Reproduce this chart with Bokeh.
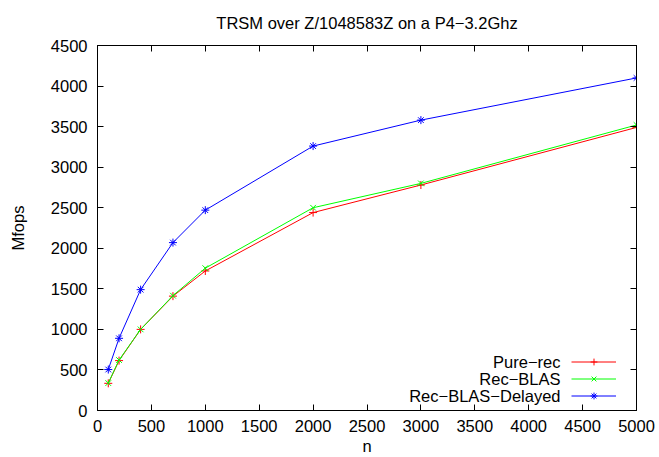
from bokeh.plotting import figure
from bokeh.models import (LinearAxis, SingleIntervalTicker, Range1d, Legend, LegendItem,
                          Label, ColumnDataSource, CustomLabelingPolicy)
from bokeh.core.properties import value
from bokeh.embed import file_html
from bokeh.resources import INLINE

# ---- data ----
n = [100, 200, 400, 700, 1000, 2000, 3000, 5000]
pure_rec = [335, 615, 1000, 1410, 1720, 2440, 2780, 3490]
rec_blas = [338, 622, 1000, 1416, 1755, 2500, 2800, 3520]
rec_blas_delayed = [505, 890, 1490, 2070, 2470, 3260, 3580, 4100]

series_names = ["Pure\u2212rec", "Rec\u2212BLAS", "Rec\u2212BLAS\u2212Delayed"]
series_values = [pure_rec, rec_blas, rec_blas_delayed]
series_colors = ["#ff0000", "#00ff00", "#0000ff"]
series_markers = ["cross", "x", "asterisk"]

title_text = "TRSM over Z/1048583Z on a P4\u22123.2Ghz"
FONT = "Liberation Sans"
FS = "16.5px"

p = figure(width=659, height=457, output_backend="svg", toolbar_location=None,
           x_range=Range1d(0, 5000), y_range=Range1d(0, 4500),
           min_border_left=97, min_border_right=23, min_border_top=45, min_border_bottom=47)

p.title.text = title_text
p.title.align = "center"
p.title.text_font = FONT
p.title.text_font_size = FS
p.title.text_font_style = "normal"
p.title.text_color = "black"
p.title.standoff = 19

p.xgrid.visible = False
p.ygrid.visible = False
p.outline_line_color = "black"
p.outline_line_width = 1
p.background_fill_color = "white"
p.border_fill_color = "white"

xt = SingleIntervalTicker(interval=500, num_minor_ticks=0)
yt = SingleIntervalTicker(interval=500, num_minor_ticks=0)

no_labels = CustomLabelingPolicy(code="""
    const all = [...indices]
    for (const i of all) indices.unset(i)
    return indices
""")

def style_axis(ax, label_size=FS):
    ax.axis_line_color = "black"
    ax.major_tick_line_color = "black"
    ax.major_tick_in = 6
    ax.major_tick_out = 0
    ax.minor_tick_line_color = None
    ax.major_label_text_font = FONT
    ax.major_label_text_font_size = label_size
    ax.major_label_text_color = "black"
    ax.axis_label_text_font = FONT
    ax.axis_label_text_font_size = FS
    ax.axis_label_text_font_style = "normal"
    ax.axis_label_text_color = "black"

p.xaxis.ticker = xt
p.yaxis.ticker = yt
style_axis(p.xaxis[0])
style_axis(p.yaxis[0])
p.xaxis.axis_label = "n"
p.yaxis.axis_label = "Mfops"
p.xaxis.major_label_standoff = 9
p.yaxis.major_label_standoff = 10
p.xaxis.axis_label_standoff = 2
p.xaxis.axis_label_text_line_height = 1.0
p.yaxis.axis_label_standoff = 21

top = LinearAxis(ticker=xt, major_label_policy=no_labels, major_label_standoff=0)
style_axis(top, "1px")
p.add_layout(top, "above")
right = LinearAxis(ticker=yt, major_label_policy=no_labels, major_label_standoff=0)
style_axis(right, "1px")
p.add_layout(right, "right")

items = []
for name, vals, col, mk in zip(series_names, series_values, series_colors, series_markers):
    src = ColumnDataSource(dict(x=n, y=vals))
    r1 = p.line("x", "y", source=src, line_color=col, line_width=1)
    r2 = p.scatter("x", "y", source=src, marker=mk, size=8, line_color=col, line_width=1)
    items.append(LegendItem(label=value(" "), renderers=[r1, r2]))

legend = Legend(items=items, location=(474, 6), glyph_width=45, glyph_height=17,
                label_height=17, label_width=1, label_standoff=0, spacing=0, padding=0,
                margin=0, border_line_color=None, background_fill_alpha=0,
                label_text_font_size=FS, label_text_font=FONT)
p.add_layout(legend, "center")

row_y = [48.5, 31.5, 14.5]
for name, yy in zip(series_names, row_y):
    p.add_layout(Label(x=463, y=yy, x_units="screen", y_units="screen", text=name,
                       text_align="right", text_baseline="middle",
                       text_font=FONT, text_font_size=FS, text_color="black"))

open("out.html", "w").write(file_html(p, INLINE))
